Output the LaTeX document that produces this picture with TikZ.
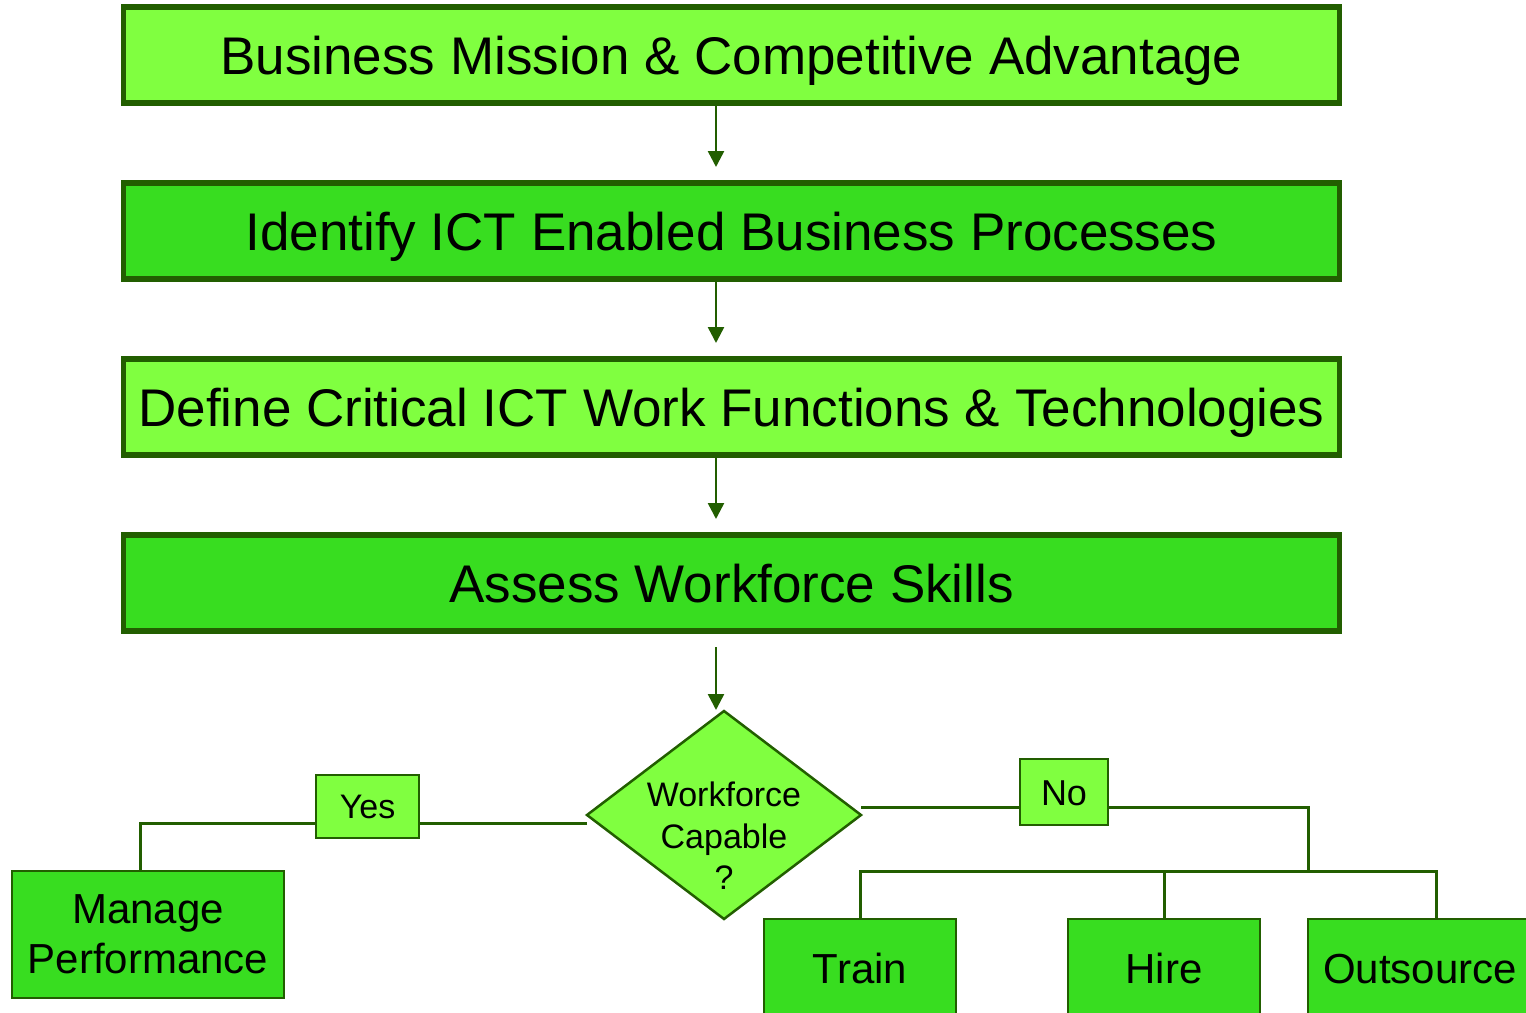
\documentclass[tikz,border=0pt]{standalone}
\usepackage{fontspec}
\setmainfont{Liberation Sans}
\usetikzlibrary{shapes.geometric,arrows.meta,backgrounds}
\definecolor{dkg}{RGB}{34,94,0}
\definecolor{ltg}{RGB}{128,255,64}
\definecolor{mdg}{RGB}{56,221,32}
\tikzset{
  titlebox/.style={draw=dkg, line width=5.5pt, minimum width=1216pt, minimum height=96pt,
    inner sep=0pt, outer sep=0pt, font=\fontsize{53}{60}\selectfont, text height=38pt, text depth=0pt},
  smallbox/.style={draw=dkg, line width=2.5pt, inner sep=0pt, outer sep=0pt, fill=mdg},
  labelbox/.style={draw=dkg, line width=2.5pt, inner sep=0pt, outer sep=0pt, fill=ltg},
  dia/.style={diamond, draw=dkg, line width=2.5pt, fill=ltg, minimum width=274pt,
    minimum height=208pt, inner sep=0pt, outer sep=0pt},
  arr/.style={draw=dkg, line width=2.5pt, -{Triangle[width=16pt,length=16pt]}},
  conn/.style={draw=dkg, line width=3pt}
}
\begin{document}
\begin{tikzpicture}[x=1pt,y=-1pt]
\useasboundingbox (0,0) rectangle (1526,1012);
\clip (0,0) rectangle (1526,1012);

\node[titlebox, fill=ltg] (b1) at (731.5,55) {Business Mission \& Competitive Advantage};
\node[titlebox, fill=mdg] (b2) at (731.5,231) {Identify ICT Enabled Business Processes};
\node[titlebox, fill=ltg] (b3) at (731.5,407) {Define Critical ICT Work Functions \& Technologies};
\node[titlebox, fill=mdg] (b4) at (731.5,583) {Assess Workforce Skills};

\node[dia] (d) at (724,815) {};
\node[align=center, inner sep=0pt, font=\fontsize{34}{41.5}\selectfont] (dt) at (724,836) {Workforce\\Capable\\?};

\node[labelbox, minimum width=103pt, minimum height=63pt, font=\fontsize{34}{40}\selectfont,
  text height=24pt, text depth=0pt] (yes) at (367.5,806.5) {Yes};
\node[labelbox, minimum width=88pt, minimum height=66pt, font=\fontsize{36}{40}\selectfont,
  text height=26pt, text depth=0pt] (no) at (1064,792) {No};

\node[smallbox, minimum width=272pt, minimum height=127pt, align=center,
  font=\fontsize{42}{50}\selectfont] (mp) at (148,934.5) {Manage\\Performance};
\node[smallbox, minimum width=192pt, minimum height=98pt, font=\fontsize{42}{50}\selectfont,
  text height=30pt, text depth=0pt] (tr) at (860,968) {Train};
\node[smallbox, minimum width=192pt, minimum height=98pt, font=\fontsize{42}{50}\selectfont,
  text height=30pt, text depth=0pt] (hi) at (1164,968) {Hire};
\node[smallbox, minimum width=224pt, minimum height=98pt, font=\fontsize{42}{50}\selectfont,
  text height=30pt, text depth=0pt] (os) at (1420,968) {Outsource};

\coordinate (ax) at (716,0);
\coordinate (ly) at (0,823);
\coordinate (ry) at (0,807);
\coordinate (mpx) at (140,0);
\coordinate (bus) at (1308,871);
\coordinate (osx) at (1436,871);

\draw[arr] (b1.south -| ax) -- ([yshift=16pt]b2.north -| ax);
\draw[arr] (b2.south -| ax) -- ([yshift=16pt]b3.north -| ax);
\draw[arr] (b3.south -| ax) -- ([yshift=16pt]b4.north -| ax);
\draw[arr] ([yshift=-16pt]b4.south -| ax) -- ([yshift=1pt]d.north -| ax);

\begin{scope}[on background layer]
\draw[conn] (d.west |- ly) -- (yes.east |- ly);
\draw[conn] (yes.west |- ly) -| (mp.north -| mpx);
\draw[conn] (d.east |- ry) -- (no.west |- ry);
\draw[conn] (no.east |- ry) -| (bus);
\draw[conn] (tr.north) -- (tr.north |- bus) -- (osx) -- (osx |- os.north);
\draw[conn] (hi.north) -- (hi.north |- bus);
\end{scope}
\end{tikzpicture}
\end{document}
